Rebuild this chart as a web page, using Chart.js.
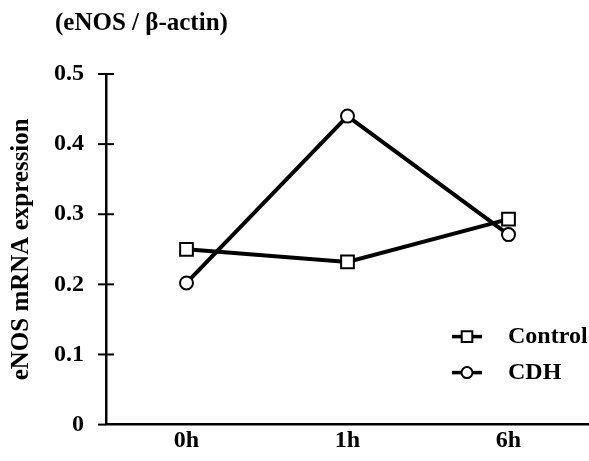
<!DOCTYPE html>
<html>
<head>
<meta charset="utf-8">
<script src="https://cdn.jsdelivr.net/npm/chart.js@4/dist/chart.umd.min.js"></script>
<style>
  html, body { margin: 0; padding: 0; background: #fff; overflow: hidden; }
</style>
</head>
<body>
<canvas id="myChart" width="589" height="461"></canvas>
<script>
let labels = ['0h', '1h', '6h'];
let controlValues = [0.25, 0.232, 0.293];
let cdhValues = [0.202, 0.44, 0.271];
let yTicks = [0, 0.1, 0.2, 0.3, 0.4, 0.5];
let topTitle = '(eNOS / \u03b2-actin)';
let yTitle = 'eNOS mRNA expression';

let serif = 'Liberation Serif, Times New Roman, serif';

// tick marks crossing the y axis
let crossTicks = {
    id: 'crossTicks',
    afterDraw(chart) {
        let c = chart.ctx, y = chart.scales.y, x0 = chart.chartArea.left;
        c.save();
        c.strokeStyle = '#000';
        c.lineWidth = 2;
        yTicks.forEach(v => {
            let py = y.getPixelForValue(v);
            c.beginPath();
            c.moveTo(x0 - 8, py);
            c.lineTo(x0 + (v === 0 ? 0 : 8), py);
            c.stroke();
        });
        c.restore();
    }
};

// title at top left and legend inside plot
let extras = {
    id: 'extras',
    afterDraw(chart) {
        let c = chart.ctx, a = chart.chartArea;
        c.save();
        c.fillStyle = '#000';
        c.font = 'bold 25px ' + serif;
        c.textBaseline = 'middle';
        c.textAlign = 'left';
        c.fillText(topTitle, 55, 24);

        chart.data.datasets.forEach((ds, i) => {
            let ly = a.bottom - 88 + i * 36;
            let lx = a.right - 137;
            c.strokeStyle = '#000';
            c.lineWidth = 3.5;
            c.beginPath();
            c.moveTo(lx, ly);
            c.lineTo(lx + 30, ly);
            c.stroke();
            c.lineWidth = 2;
            c.fillStyle = '#fff';
            Chart.helpers.drawPoint(c, {
                pointStyle: ds.pointStyle,
                radius: ds.pointStyle === 'rect' ? 7.5 : 5.5,
                borderWidth: 2
            }, lx + 15, ly);
            c.fillStyle = '#000';
            c.font = 'bold 24px ' + serif;
            c.fillText(ds.label, lx + 56, ly);
        });
        c.restore();
    }
};

let ctx = document.getElementById('myChart').getContext('2d');
var myChart = new Chart(ctx, {
    type: 'line',
    data: {
        labels: labels,
        datasets: [{
            label: 'Control',
            data: controlValues,
            borderColor: '#000',
            borderWidth: 4,
            pointStyle: 'rect',
            pointRadius: 9,
            pointBorderWidth: 2,
            pointBackgroundColor: '#fff',
            pointBorderColor: '#000'
        }, {
            label: 'CDH',
            data: cdhValues,
            borderColor: '#000',
            borderWidth: 4,
            pointStyle: 'circle',
            pointRadius: 6.5,
            pointBorderWidth: 2,
            pointBackgroundColor: '#fff',
            pointBorderColor: '#000'
        }]
    },
    options: {
        responsive: false,
        animation: false,
        layout: { autoPadding: false, padding: { top: 74, right: 0, bottom: 2, left: 0 } },
        plugins: {
            legend: { display: false },
            tooltip: { enabled: false }
        },
        scales: {
            x: {
                offset: true,
                grid: { display: false, drawTicks: false },
                border: { display: true, color: '#000', width: 2.5 },
                ticks: {
                    color: '#000', padding: 2, align: 'end', labelOffset: 12.5,
                    font: { family: serif, size: 24, weight: 'bold' }
                }
            },
            y: {
                min: 0,
                max: 0.5,
                afterBuildTicks(scale) { scale.ticks = yTicks.map(v => ({ value: v })); },
                grid: { display: false, drawTicks: false },
                border: { display: true, color: '#000', width: 2.5 },
                ticks: { color: '#000', padding: 22, font: { family: serif, size: 24, weight: 'bold' } },
                title: {
                    display: true,
                    text: yTitle,
                    color: '#000',
                    padding: { top: 7, bottom: -5 },
                    font: { family: serif, size: 25, weight: 'bold' }
                }
            }
        }
    },
    plugins: [crossTicks, extras]
});
</script>
</body>
</html>
